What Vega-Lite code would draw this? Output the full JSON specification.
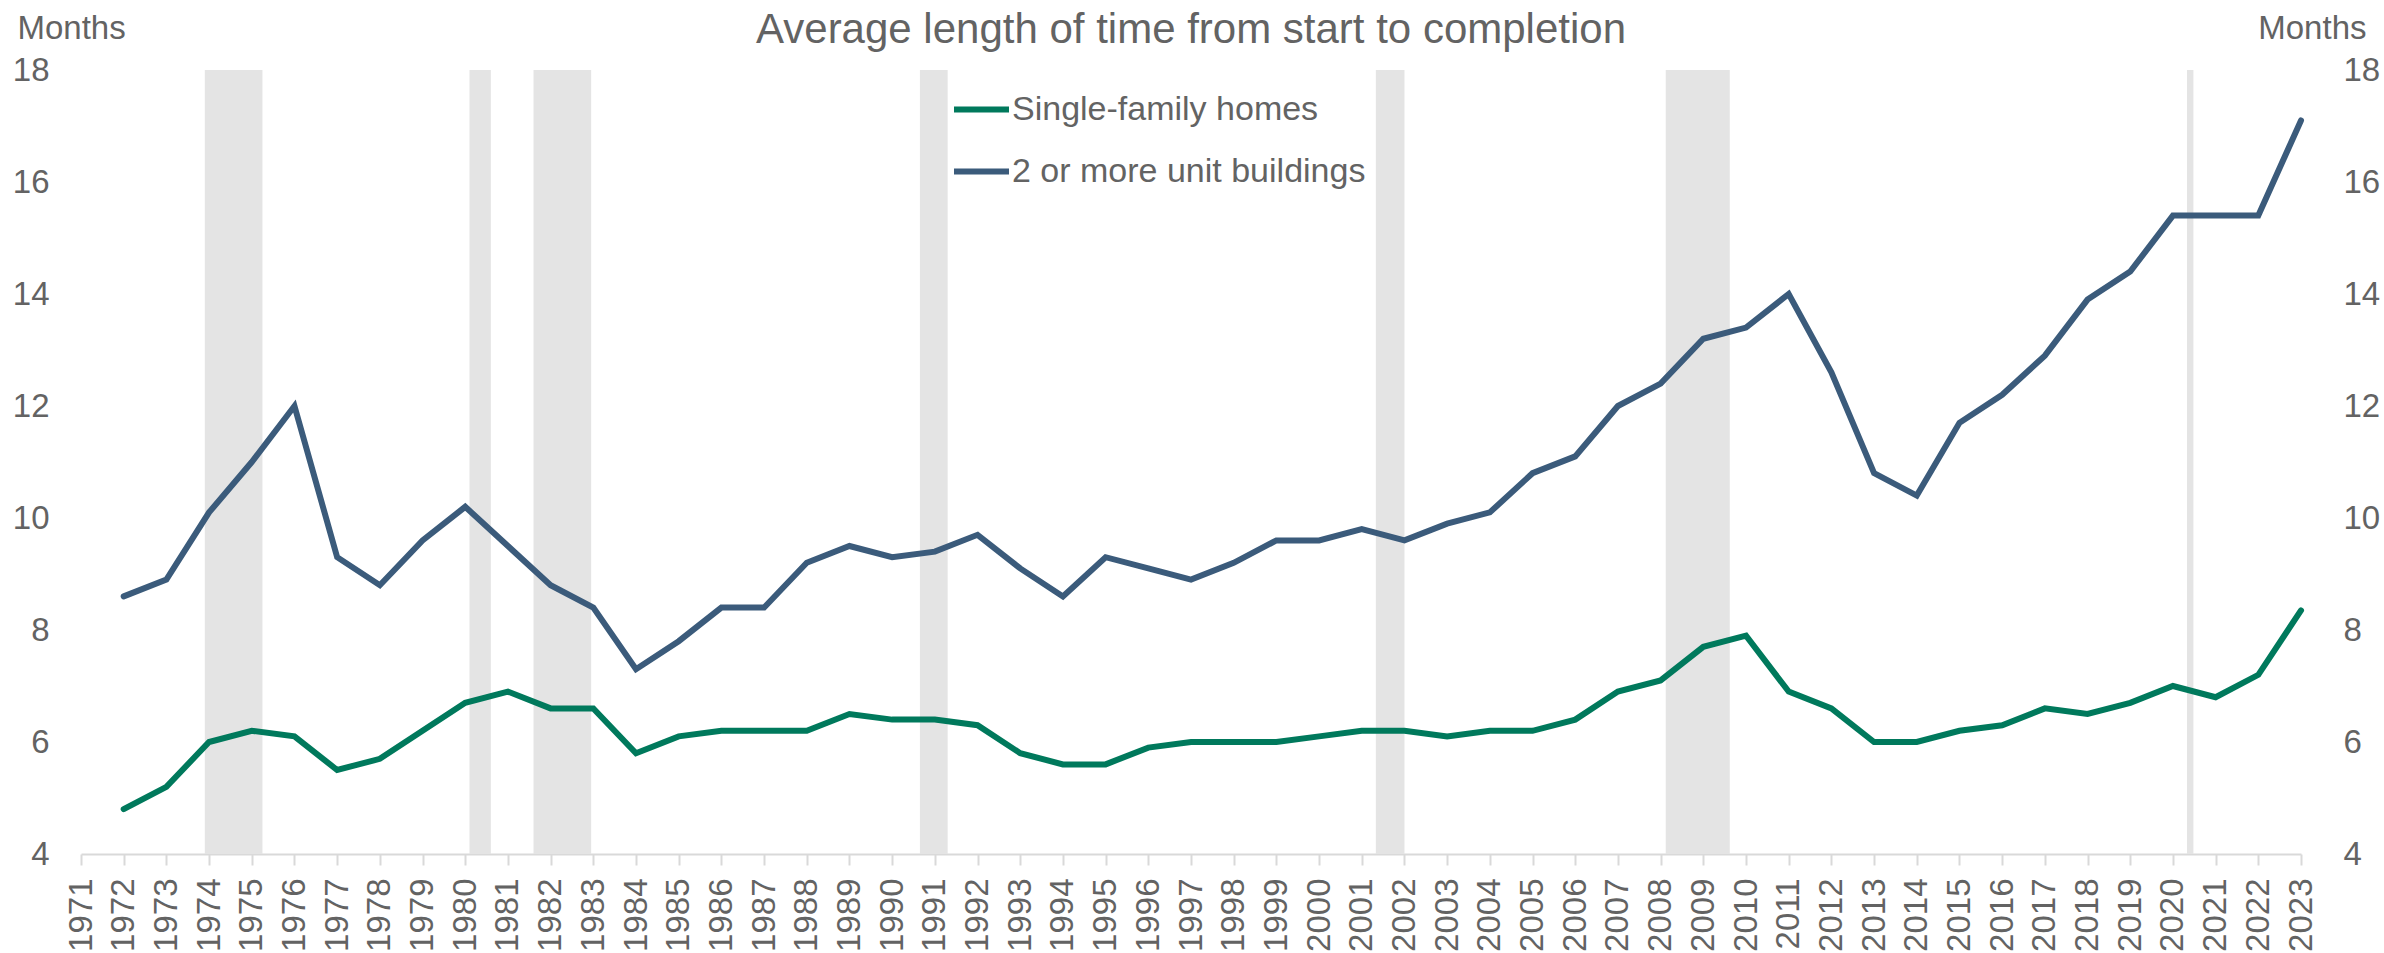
{
 "$schema": "https://vega.github.io/schema/vega-lite/v6.json",
 "width": 2220,
 "height": 784,
 "autosize": {"type": "none"},
 "padding": {"left": 81, "top": 70, "right": 83, "bottom": 99},
 "background": "white",
 "config": {"font": "Liberation Sans", "view": {"stroke": null}},
 "title": {"text": "Average length of time from start to completion", "fontSize": 42, "fontWeight": "normal", "color": "#636363", "anchor": "middle", "baseline": "alphabetic", "dy": 77},
 "datasets": {
  "recessions": [
   {"start": 1973.9, "end": 1975.25},
   {"start": 1980.1, "end": 1980.6},
   {"start": 1981.6, "end": 1982.95},
   {"start": 1990.65, "end": 1991.3},
   {"start": 2001.33, "end": 2002.0},
   {"start": 2008.12, "end": 2009.62},
   {"start": 2020.33, "end": 2020.48}
  ],
  "series": [
   {"year": 1972, "type": "Single-family homes", "months": 4.8},
   {"year": 1973, "type": "Single-family homes", "months": 5.2},
   {"year": 1974, "type": "Single-family homes", "months": 6.0},
   {"year": 1975, "type": "Single-family homes", "months": 6.2},
   {"year": 1976, "type": "Single-family homes", "months": 6.1},
   {"year": 1977, "type": "Single-family homes", "months": 5.5},
   {"year": 1978, "type": "Single-family homes", "months": 5.7},
   {"year": 1979, "type": "Single-family homes", "months": 6.2},
   {"year": 1980, "type": "Single-family homes", "months": 6.7},
   {"year": 1981, "type": "Single-family homes", "months": 6.9},
   {"year": 1982, "type": "Single-family homes", "months": 6.6},
   {"year": 1983, "type": "Single-family homes", "months": 6.6},
   {"year": 1984, "type": "Single-family homes", "months": 5.8},
   {"year": 1985, "type": "Single-family homes", "months": 6.1},
   {"year": 1986, "type": "Single-family homes", "months": 6.2},
   {"year": 1987, "type": "Single-family homes", "months": 6.2},
   {"year": 1988, "type": "Single-family homes", "months": 6.2},
   {"year": 1989, "type": "Single-family homes", "months": 6.5},
   {"year": 1990, "type": "Single-family homes", "months": 6.4},
   {"year": 1991, "type": "Single-family homes", "months": 6.4},
   {"year": 1992, "type": "Single-family homes", "months": 6.3},
   {"year": 1993, "type": "Single-family homes", "months": 5.8},
   {"year": 1994, "type": "Single-family homes", "months": 5.6},
   {"year": 1995, "type": "Single-family homes", "months": 5.6},
   {"year": 1996, "type": "Single-family homes", "months": 5.9},
   {"year": 1997, "type": "Single-family homes", "months": 6.0},
   {"year": 1998, "type": "Single-family homes", "months": 6.0},
   {"year": 1999, "type": "Single-family homes", "months": 6.0},
   {"year": 2000, "type": "Single-family homes", "months": 6.1},
   {"year": 2001, "type": "Single-family homes", "months": 6.2},
   {"year": 2002, "type": "Single-family homes", "months": 6.2},
   {"year": 2003, "type": "Single-family homes", "months": 6.1},
   {"year": 2004, "type": "Single-family homes", "months": 6.2},
   {"year": 2005, "type": "Single-family homes", "months": 6.2},
   {"year": 2006, "type": "Single-family homes", "months": 6.4},
   {"year": 2007, "type": "Single-family homes", "months": 6.9},
   {"year": 2008, "type": "Single-family homes", "months": 7.1},
   {"year": 2009, "type": "Single-family homes", "months": 7.7},
   {"year": 2010, "type": "Single-family homes", "months": 7.9},
   {"year": 2011, "type": "Single-family homes", "months": 6.9},
   {"year": 2012, "type": "Single-family homes", "months": 6.6},
   {"year": 2013, "type": "Single-family homes", "months": 6.0},
   {"year": 2014, "type": "Single-family homes", "months": 6.0},
   {"year": 2015, "type": "Single-family homes", "months": 6.2},
   {"year": 2016, "type": "Single-family homes", "months": 6.3},
   {"year": 2017, "type": "Single-family homes", "months": 6.6},
   {"year": 2018, "type": "Single-family homes", "months": 6.5},
   {"year": 2019, "type": "Single-family homes", "months": 6.7},
   {"year": 2020, "type": "Single-family homes", "months": 7.0},
   {"year": 2021, "type": "Single-family homes", "months": 6.8},
   {"year": 2022, "type": "Single-family homes", "months": 7.2},
   {"year": 2023, "type": "Single-family homes", "months": 8.35},
   {"year": 1972, "type": "2 or more unit buildings", "months": 8.6},
   {"year": 1973, "type": "2 or more unit buildings", "months": 8.9},
   {"year": 1974, "type": "2 or more unit buildings", "months": 10.1},
   {"year": 1975, "type": "2 or more unit buildings", "months": 11.0},
   {"year": 1976, "type": "2 or more unit buildings", "months": 12.0},
   {"year": 1977, "type": "2 or more unit buildings", "months": 9.3},
   {"year": 1978, "type": "2 or more unit buildings", "months": 8.8},
   {"year": 1979, "type": "2 or more unit buildings", "months": 9.6},
   {"year": 1980, "type": "2 or more unit buildings", "months": 10.2},
   {"year": 1981, "type": "2 or more unit buildings", "months": 9.5},
   {"year": 1982, "type": "2 or more unit buildings", "months": 8.8},
   {"year": 1983, "type": "2 or more unit buildings", "months": 8.4},
   {"year": 1984, "type": "2 or more unit buildings", "months": 7.3},
   {"year": 1985, "type": "2 or more unit buildings", "months": 7.8},
   {"year": 1986, "type": "2 or more unit buildings", "months": 8.4},
   {"year": 1987, "type": "2 or more unit buildings", "months": 8.4},
   {"year": 1988, "type": "2 or more unit buildings", "months": 9.2},
   {"year": 1989, "type": "2 or more unit buildings", "months": 9.5},
   {"year": 1990, "type": "2 or more unit buildings", "months": 9.3},
   {"year": 1991, "type": "2 or more unit buildings", "months": 9.4},
   {"year": 1992, "type": "2 or more unit buildings", "months": 9.7},
   {"year": 1993, "type": "2 or more unit buildings", "months": 9.1},
   {"year": 1994, "type": "2 or more unit buildings", "months": 8.6},
   {"year": 1995, "type": "2 or more unit buildings", "months": 9.3},
   {"year": 1996, "type": "2 or more unit buildings", "months": 9.1},
   {"year": 1997, "type": "2 or more unit buildings", "months": 8.9},
   {"year": 1998, "type": "2 or more unit buildings", "months": 9.2},
   {"year": 1999, "type": "2 or more unit buildings", "months": 9.6},
   {"year": 2000, "type": "2 or more unit buildings", "months": 9.6},
   {"year": 2001, "type": "2 or more unit buildings", "months": 9.8},
   {"year": 2002, "type": "2 or more unit buildings", "months": 9.6},
   {"year": 2003, "type": "2 or more unit buildings", "months": 9.9},
   {"year": 2004, "type": "2 or more unit buildings", "months": 10.1},
   {"year": 2005, "type": "2 or more unit buildings", "months": 10.8},
   {"year": 2006, "type": "2 or more unit buildings", "months": 11.1},
   {"year": 2007, "type": "2 or more unit buildings", "months": 12.0},
   {"year": 2008, "type": "2 or more unit buildings", "months": 12.4},
   {"year": 2009, "type": "2 or more unit buildings", "months": 13.2},
   {"year": 2010, "type": "2 or more unit buildings", "months": 13.4},
   {"year": 2011, "type": "2 or more unit buildings", "months": 14.0},
   {"year": 2012, "type": "2 or more unit buildings", "months": 12.6},
   {"year": 2013, "type": "2 or more unit buildings", "months": 10.8},
   {"year": 2014, "type": "2 or more unit buildings", "months": 10.4},
   {"year": 2015, "type": "2 or more unit buildings", "months": 11.7},
   {"year": 2016, "type": "2 or more unit buildings", "months": 12.2},
   {"year": 2017, "type": "2 or more unit buildings", "months": 12.9},
   {"year": 2018, "type": "2 or more unit buildings", "months": 13.9},
   {"year": 2019, "type": "2 or more unit buildings", "months": 14.4},
   {"year": 2020, "type": "2 or more unit buildings", "months": 15.4},
   {"year": 2021, "type": "2 or more unit buildings", "months": 15.4},
   {"year": 2022, "type": "2 or more unit buildings", "months": 15.4},
   {"year": 2023, "type": "2 or more unit buildings", "months": 17.1}
  ]
 },
 "layer": [
  {
   "data": {"name": "recessions"},
   "mark": {"type": "rect", "color": "#e4e4e4"},
   "encoding": {
    "x": {"field": "start", "type": "quantitative",
     "scale": {"domain": [1971, 2023], "nice": false, "zero": false},
     "axis": {"values": [1971,1972,1973,1974,1975,1976,1977,1978,1979,1980,1981,1982,1983,1984,1985,1986,1987,1988,1989,1990,1991,1992,1993,1994,1995,1996,1997,1998,1999,2000,2001,2002,2003,2004,2005,2006,2007,2008,2009,2010,2011,2012,2013,2014,2015,2016,2017,2018,2019,2020,2021,2022,2023],
      "format": "d", "title": null, "grid": false, "labelAngle": -90, "labelFontSize": 33, "labelColor": "#636363",
      "labelPadding": 13, "labelOverlap": false, "labelFlush": false, "tickColor": "#d9d9d9", "tickSize": 11, "tickWidth": 2,
      "domainColor": "#d9d9d9", "domainWidth": 2}},
    "x2": {"field": "end"},
    "y": {"datum": 18, "type": "quantitative",
     "scale": {"domain": [4, 18], "nice": false, "zero": false},
     "axis": {"values": [4,6,8,10,12,14,16,18], "grid": false, "domain": false, "ticks": false, "labelFontSize": 33, "labelColor": "#636363", "labelPadding": 32, "labelFlush": false,
      "title": "Months", "titleAngle": 0, "titleAlign": "left", "titleBaseline": "alphabetic", "titleX": -64, "titleY": -32, "titleFontSize": 33, "titleFontWeight": "normal", "titleColor": "#636363"}},
    "y2": {"datum": 4}
   }
  },
  {
   "data": {"name": "series"},
   "mark": {"type": "line", "strokeWidth": 6, "strokeCap": "round", "strokeJoin": "miter"},
   "encoding": {
    "x": {"field": "year", "type": "quantitative"},
    "y": {"field": "months", "type": "quantitative",
     "scale": {"domain": [4, 18], "nice": false, "zero": false},
     "axis": {"orient": "right", "values": [4,6,8,10,12,14,16,18], "grid": false, "domain": false, "ticks": false, "labelFontSize": 33, "labelColor": "#636363", "labelPadding": 42, "labelFlush": false,
      "title": "Months", "titleAngle": 0, "titleAlign": "right", "titleBaseline": "alphabetic", "titleX": 65, "titleY": -32, "titleFontSize": 33, "titleFontWeight": "normal", "titleColor": "#636363"}},
    "color": {"field": "type", "type": "nominal",
     "scale": {"domain": ["Single-family homes", "2 or more unit buildings"], "range": ["#00795c", "#3b5b7b"]},
     "legend": {"title": null, "orient": "none", "legendX": 870, "legendY": 9, "padding": 0, "symbolType": "stroke", "symbolSize": 3025, "symbolStrokeWidth": 6, "labelFontSize": 34, "labelColor": "#636363", "labelOffset": 0, "labelLimit": 0, "rowPadding": 14}}
   }
  }
 ],
 "resolve": {"scale": {"y": "independent"}, "axis": {"y": "independent"}}
}
